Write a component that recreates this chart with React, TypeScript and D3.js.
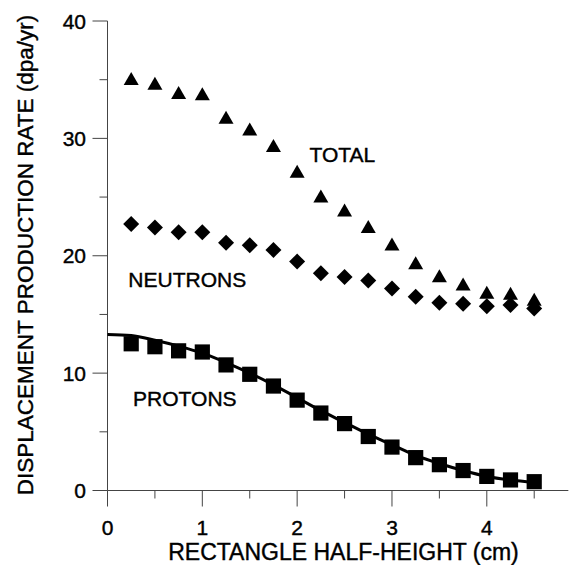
import React from 'react';
import * as d3 from 'd3';

// half-height values (cm)
const halfHeight = [0.25, 0.5, 0.75, 1.0, 1.25, 1.5, 1.75, 2.0, 2.25, 2.5, 2.75, 3.0, 3.25, 3.5, 3.75, 4.0, 4.25, 4.5];
const total = [35.1, 34.7, 33.9, 33.8, 31.8, 30.8, 29.4, 27.2, 25.1, 23.9, 22.5, 21.0, 19.4, 18.3, 17.6, 16.9, 16.8, 16.3];
const neutrons = [22.7, 22.4, 22.0, 22.0, 21.1, 20.9, 20.5, 19.5, 18.5, 18.2, 17.9, 17.2, 16.5, 16.0, 15.9, 15.7, 15.8, 15.5];
const protons = [12.5, 12.25, 11.9, 11.8, 10.7, 9.9, 8.9, 7.7, 6.6, 5.7, 4.6, 3.7, 2.8, 2.2, 1.7, 1.2, 0.9, 0.75];

// fitted curve through the proton points
const fitX = [0, 0.25, 0.5, 0.75, 1.0, 1.25, 1.5, 1.75, 2.0, 2.25, 2.5, 2.75, 3.0, 3.25, 3.5, 3.75, 4.0, 4.25, 4.5];
const fitY = [13.3, 13.2, 12.8, 12.3, 11.7, 10.9, 10.0, 9.0, 7.9, 6.8, 5.8, 4.8, 3.9, 3.0, 2.3, 1.7, 1.2, 0.9, 0.7];

const xTicks = [0, 1, 2, 3, 4];
const xMinor = [0.5, 1.5, 2.5, 3.5, 4.5];
const yTicks = [0, 10, 20, 30, 40];
const yMinor = [5, 15, 25, 35];

const labels = [
  { text: 'TOTAL', x: 2.13, y: 27.98 },
  { text: 'NEUTRONS', x: 0.22, y: 17.36 },
  { text: 'PROTONS', x: 0.27, y: 7.2 },
];

const width = 571;
const height = 565;
const font = '"Liberation Sans", Arial, Helvetica, sans-serif';

export default function App() {
  const x = d3.scaleLinear().domain([0, 4]).range([107.5, 486.8]);
  const y = d3.scaleLinear().domain([0, 40]).range([490.5, 21]);
  const xEnd = 4.86;

  const fitLine = d3
    .line<number>()
    .x((d) => x(d))
    .y((_, i) => y(fitY[i]))
    .curve(d3.curveMonotoneX);

  const tri = 'M0,-6.5L7.5,6.5L-7.5,6.5Z';
  const diamond = 'M0,-8L8,0L0,8L-8,0Z';
  const sq = 'M-7.6,-7.6H7.6V7.6H-7.6Z';

  // slightly heavier text, like the scanned original
  const txt = { stroke: '#000', strokeWidth: 0.4 };

  return (
    <svg
      width={width}
      height={height}
      style={{ position: 'absolute', left: 0, top: 0, background: '#fff' }}
      fontFamily={font}
    >
      {/* axes */}
      <line x1={x(0)} x2={x(0)} y1={y(40)} y2={y(0)} stroke="#444" strokeWidth={1} />
      <line x1={x(0)} x2={x(xEnd)} y1={y(0)} y2={y(0)} stroke="#444" strokeWidth={1} />
      {yTicks.map((t) => (
        <g key={'yt' + t}>
          <line x1={x(0) - 15} x2={x(0)} y1={y(t)} y2={y(t)} stroke="#444" />
          <text x={86} y={y(t)} dy="0.36em" textAnchor="end" fontSize={21} {...txt}>
            {t}
          </text>
        </g>
      ))}
      {yMinor.map((t) => (
        <line key={'ym' + t} x1={x(0) - 8} x2={x(0)} y1={y(t)} y2={y(t)} stroke="#444" />
      ))}
      {xTicks.map((t) => (
        <g key={'xt' + t}>
          <line x1={x(t)} x2={x(t)} y1={y(0)} y2={y(0) + 16} stroke="#444" />
          <text x={x(t)} y={535} textAnchor="middle" fontSize={21} {...txt}>
            {t}
          </text>
        </g>
      ))}
      {xMinor.map((t) => (
        <line key={'xm' + t} x1={x(t)} x2={x(t)} y1={y(0)} y2={y(0) + 8} stroke="#444" />
      ))}

      {/* axis titles */}
      <text x={343.5} y={560} textAnchor="middle" fontSize={23} {...txt}>
        RECTANGLE HALF-HEIGHT (cm)
      </text>
      <text
        transform={`translate(33,255) rotate(-90)`}
        textAnchor="middle"
        fontSize={22.5}
        {...txt}
      >
        DISPLACEMENT PRODUCTION RATE (dpa/yr)
      </text>

      {/* proton fit */}
      <path d={fitLine(fitX) || ''} fill="none" stroke="#000" strokeWidth={3} />

      {/* markers */}
      {halfHeight.map((h, i) => (
        <path key={'t' + i} d={tri} transform={`translate(${x(h)},${y(total[i])})`} fill="#000" />
      ))}
      {halfHeight.map((h, i) => (
        <path key={'n' + i} d={diamond} transform={`translate(${x(h)},${y(neutrons[i])})`} fill="#000" />
      ))}
      {halfHeight.map((h, i) => (
        <path key={'p' + i} d={sq} transform={`translate(${x(h)},${y(protons[i])})`} fill="#000" />
      ))}

      {labels.map((l) => (
        <text key={l.text} x={x(l.x)} y={y(l.y)} fontSize={21} {...txt}>
          {l.text}
        </text>
      ))}
    </svg>
  );
}
